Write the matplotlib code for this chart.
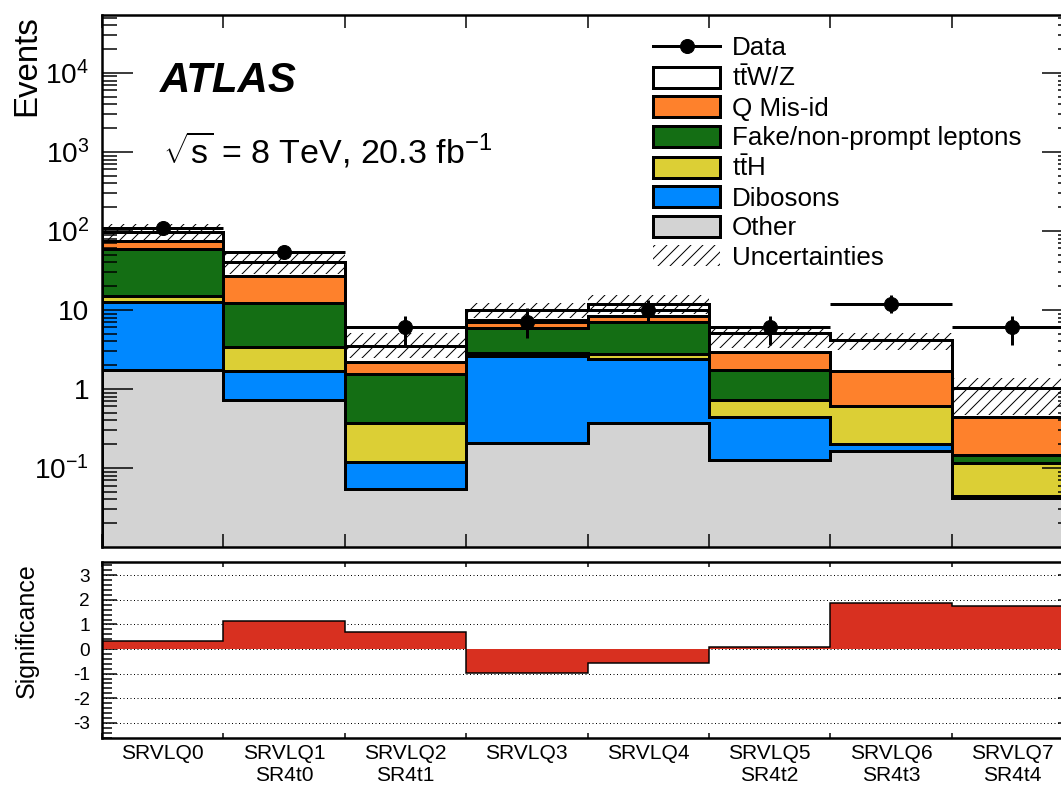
import numpy as np
import matplotlib.pyplot as plt
from matplotlib.patches import Patch
from matplotlib.lines import Line2D
from matplotlib.ticker import LogLocator, MultipleLocator, FixedLocator, NullFormatter

plt.rcParams['font.family'] = ['Liberation Sans', 'DejaVu Sans']
plt.rcParams['mathtext.fontset'] = 'custom'
plt.rcParams['mathtext.rm'] = 'Liberation Sans'
plt.rcParams['mathtext.it'] = 'Liberation Sans:italic'
plt.rcParams['mathtext.bf'] = 'Liberation Sans:bold'
plt.rcParams['mathtext.default'] = 'regular'
plt.rcParams['axes.unicode_minus'] = False
plt.rcParams['hatch.linewidth'] = 1.0

# signal regions
regions = ['SRVLQ0', 'SRVLQ1\nSR4t0', 'SRVLQ2\nSR4t1', 'SRVLQ3', 'SRVLQ4',
           'SRVLQ5\nSR4t2', 'SRVLQ6\nSR4t3', 'SRVLQ7\nSR4t4']

# background yields
other = [1.74, 0.73, 0.054, 0.21, 0.37, 0.126, 0.164, 0.042]
dibosons = [10.9, 0.96, 0.065, 2.41, 2.03, 0.31, 0.036, 0.002]
tth = [2.4, 1.7, 0.25, 0.24, 0.37, 0.29, 0.41, 0.072]
fake = [44.0, 8.9, 1.18, 3.0, 4.3, 1.0, 0.0, 0.03]
qmisid = [15.7, 14.7, 0.65, 1.6, 1.35, 1.2, 1.08, 0.29]
ttv = [22.3, 13.5, 1.3, 2.5, 3.5, 2.16, 2.48, 0.59]

# total background uncertainty band
unc_lo = [70.5, 28.6, 2.47, 7.9, 9.0, 3.3, 3.1, 0.47]
unc_hi = [123, 52.7, 5.1, 12.3, 15.5, 5.9, 5.1, 1.38]

# observed data
data = np.array([109, 54, 6, 7, 10, 6, 12, 6])
data_lo = np.array([99, 47, 3.6, 4.4, 6.9, 3.6, 9.2, 3.6])
data_hi = np.array([120, 62, 8.4, 10.5, 13.5, 8.4, 15.5, 8.4])

# significance
signif = [0.34, 1.15, 0.69, -0.96, -0.57, 0.07, 1.88, 1.76]

layers = [other, dibosons, tth, fake, qmisid, ttv]
colors = ['#d3d3d3', '#0088ff', '#dccf35', '#146e14', '#fe812c', 'white']
labels = ['Other', 'Dibosons', r'$t\bar{t}H$', 'Fake/non-prompt leptons',
          'Q Mis-id', r'$t\bar{t}W/Z$']

W, H = 1061, 785
fig = plt.figure(figsize=(W / 72, H / 72), dpi=72)
ax = fig.add_axes([102 / W, 1 - 547 / H, 971 / W, 532 / H])
ax2 = fig.add_axes([102 / W, 1 - 738 / H, 971 / W, 176 / H])

edges = np.arange(len(regions) + 1)
centers = edges[:-1] + 0.5

# stack: draw total first, then each lower cumulative on top of it
cum = np.cumsum(np.array(layers), axis=0)
for k in range(len(layers) - 1, -1, -1):
    ax.stairs(cum[k], edges, baseline=1e-3, fill=True, facecolor=colors[k],
              edgecolor='k', linewidth=3)

ax.stairs(unc_hi, edges, baseline=unc_lo, fill=True, facecolor='none',
          edgecolor='k', hatch='//', linewidth=0)

ax.errorbar(centers, data, xerr=0.5, yerr=[data - data_lo, data_hi - data],
            fmt='o', color='k', ms=14, elinewidth=3, capsize=0, zorder=5)

ax.set_yscale('log')
ax.set_xlim(0, 8)
ax.set_ylim(0.01, 5.4e4)
ax.yaxis.set_major_locator(FixedLocator([0.1, 1, 10, 100, 1e3, 1e4]))
ax.set_yticklabels([r'$10^{-1}$', '1', '10', r'$10^{2}$', r'$10^{3}$', r'$10^{4}$'])
ax.yaxis.set_minor_locator(LogLocator(base=10, subs=np.arange(2, 10), numticks=20))
ax.yaxis.set_minor_formatter(NullFormatter())
ax.set_xticks(edges)
ax.tick_params(axis='x', which='major', direction='in', length=13, width=1.5,
               top=True, bottom=True, labelbottom=False)
ax.tick_params(axis='y', which='major', direction='in', length=31, width=1.5,
               left=True, right=True, labelsize=28, pad=13)
ax.tick_params(axis='y', which='minor', direction='in', length=15, width=1.5,
               left=True, right=True)
for s in ax.spines.values():
    s.set_linewidth(2.5)

# ratio panel
for v in range(-3, 4):
    ax2.axhline(v, color='k', linestyle=(0, (1, 2.5)), linewidth=1, zorder=1)
ax2.stairs(signif, edges, baseline=0, fill=True, color='#d83020', linewidth=0, zorder=2)
ax2.stairs(signif, edges, baseline=None, color='k', linewidth=1.5, zorder=3)
ax2.set_xlim(0, 8)
ax2.set_ylim(-3.62, 3.54)
ax2.set_yticks(range(-3, 4))
ax2.yaxis.set_minor_locator(MultipleLocator(0.2))
ax2.set_xticks(edges)
ax2.set_xticks(centers, regions, minor=True)
ax2.tick_params(axis='x', which='major', direction='in', length=5, width=1.5,
                top=True, bottom=True, labelbottom=False)
ax2.tick_params(axis='x', which='minor', length=0, labelsize=21, pad=6)
ax2.tick_params(axis='y', which='major', direction='in', length=15, width=1.5,
                left=True, right=True, labelsize=19, pad=12)
ax2.tick_params(axis='y', which='minor', direction='in', length=10, width=1.5,
                left=True, right=True)
for s in ax2.spines.values():
    s.set_linewidth(2.5)

fig.text(27 / W, 1 - 15 / H, 'Events', rotation=90, ha='center', va='top', fontsize=33)
fig.text(27 / W, 1 - 563 / H, 'Significance', rotation=90, ha='center', va='top', fontsize=25)
fig.text(160 / W, 1 - 92 / H, 'ATLAS', fontsize=42, fontweight='bold', fontstyle='italic')
fig.text(163 / W, 1 - 163 / H, r'$\sqrt{s}$ = 8 TeV, 20.3 fb$^{-1}$', fontsize=34)

handles = [Line2D([], [], color='k', lw=3, marker='o', ms=14)]
for k in range(len(layers) - 1, -1, -1):
    handles.append(Patch(facecolor=colors[k], edgecolor='k', linewidth=3))
handles.append(Patch(facecolor='none', edgecolor='k', hatch='//', linewidth=0))
leg_labels = ['Data'] + labels[::-1] + ['Uncertainties']
ax.legend(handles, leg_labels, loc='upper left', bbox_to_anchor=(653 / W, 1 - 36 / H),
          bbox_transform=fig.transFigure, frameon=False, fontsize=26,
          handlelength=2.58, handleheight=0.85, handletextpad=0.45,
          labelspacing=0.196, borderpad=0, borderaxespad=0)

fig.savefig('out.png', dpi=72)
